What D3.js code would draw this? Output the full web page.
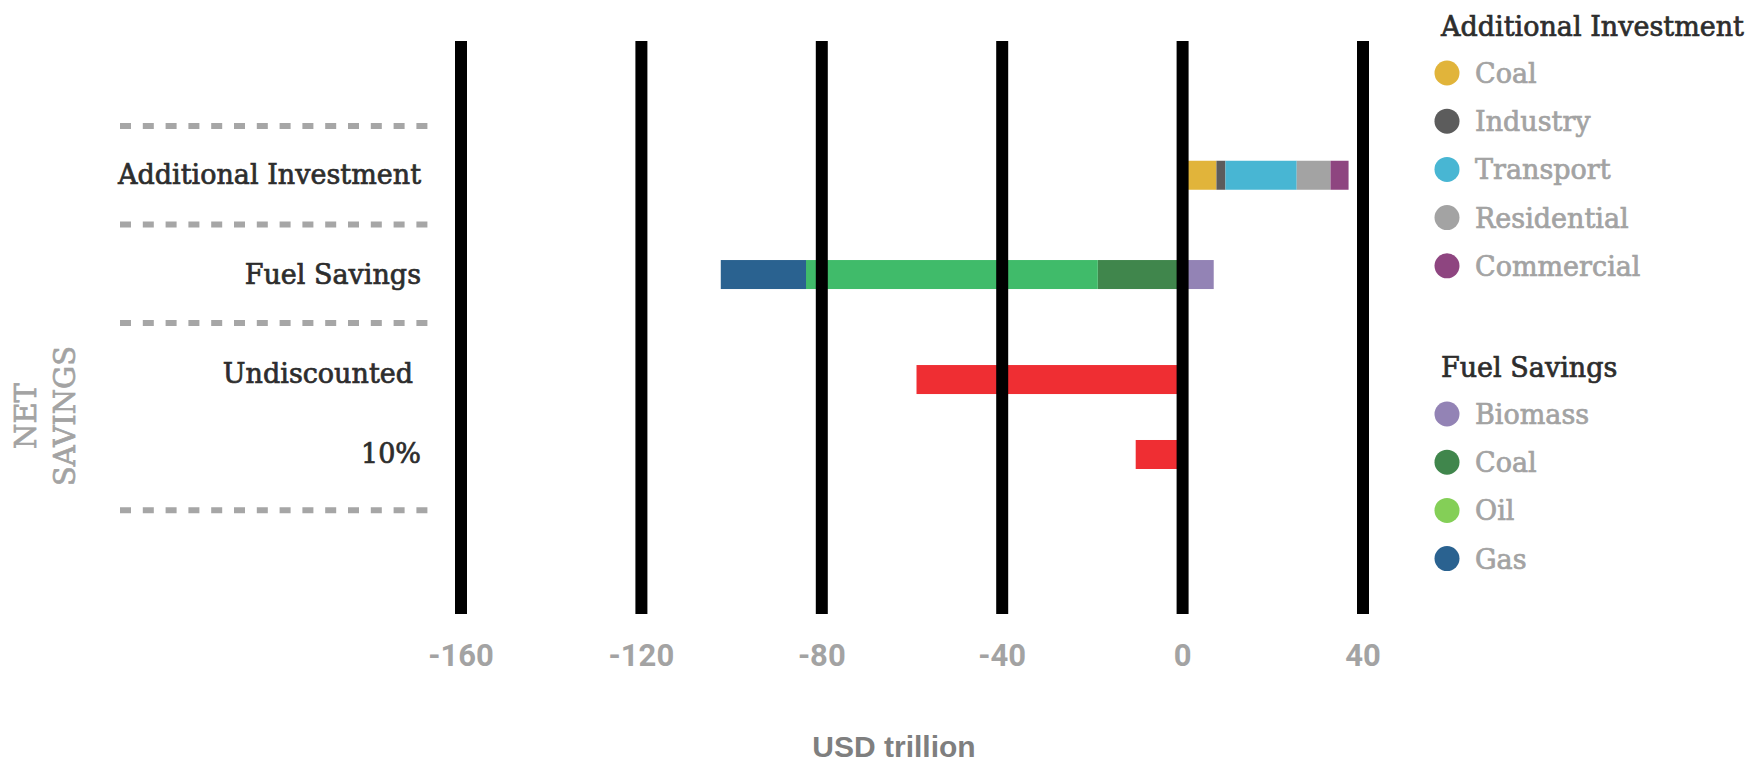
<!DOCTYPE html>
<html>
    <head>
        <meta charset="utf-8">
        <script src="https://d3js.org/d3.v7.min.js"></script>
        <style>
            body {
                margin: 0;
                background: white;
            }
            .slab {
                font-family: "DejaVu Serif", serif;
                stroke-width: 0.7px;
            }
            .tick-label {
                font-family: "Liberation Sans Narrow", "Roboto", sans-serif;
                font-weight: bold;
                fill: #a3a3a3;
            }
        </style>
    </head>
    <body>
    <script>

        const width = 1752;
        const height = 763;

        // rows on the left
        const rows = ['Additional Investment', 'Fuel Savings', 'Undiscounted', '10%'];

        // additional investment (USD trillion)
        const investKeys = ['Coal', 'Industry', 'Transport', 'Residential', 'Commercial'];
        const investValues = [7.5, 2, 15.8, 7.5, 4];
        const investColors = ['#e1b43a', '#5c5c5c', '#48b6d3', '#a3a3a3', '#8e4580'];

        // fuel savings (USD trillion)
        const fuelKeys = ['Biomass', 'Coal', 'Oil', 'Gas'];
        const fuelValues = [6.9, -18.8, -64.7, -18.9];
        const fuelColors = ['#9383b5', '#40864c', '#40bb6a', '#2a6290'];
        const fuelLegendColors = ['#9383b5', '#40864c', '#84cf57', '#2a6290'];

        // net savings
        const netRows = ['Undiscounted', '10%'];
        const netValues = [-59, -10.4];
        const netColor = '#ef2e33';

        const xTicks = [-160, -120, -80, -40, 0, 40];

        // layout: where each row sits, in row-slot units
        const rowSlot = [0.5, 1.508, 2.574, 3.335];
        const dividerSlot = [0, 1, 2, 3.9];

        var x = d3.scaleLinear().domain([-160, 40]).range([461, 1363]);
        var y = d3.scaleLinear().domain([0, 1]).range([126, 224.5]);
        var rowY = d3.scaleOrdinal().domain(rows).range(rowSlot.map(y));
        const barH = 29;

        var svg = d3.select('body')
            .append('svg')
            .attr('width', width)
            .attr('height', height);

        // dashed separators
        svg.selectAll('line.divider')
            .data(dividerSlot)
            .enter()
            .append('line')
            .attr('class', 'divider')
            .attr('x1', 120)
            .attr('x2', 430)
            .attr('y1', d => y(d))
            .attr('y2', d => y(d))
            .style('stroke', '#a6a6a6')
            .style('stroke-width', 6)
            .style('stroke-dasharray', '11,11.8');

        // row labels
        svg.selectAll('text.row')
            .data(rows)
            .enter()
            .append('text')
            .attr('class', 'row slab')
            .attr('x', (d) => d === 'Undiscounted' ? 413 : 421)
            .attr('y', d => rowY(d) + (d === 'Undiscounted' ? 3 : 9))
            .attr('text-anchor', 'end')
            .style('font-size', '27px')
            .style('fill', '#2d2d2d')
            .style('stroke', '#2d2d2d')
            .text(d => d);

        // NET SAVINGS rotated label
        var net = svg.append('text')
            .attr('class', 'slab')
            .attr('transform', 'translate(0,' + 416 + ') rotate(-90)')
            .attr('text-anchor', 'middle')
            .style('font-size', '29px')
            .style('fill', '#a3a3a3')
            .style('stroke', '#a3a3a3');
        net.append('tspan').attr('x', 0).attr('y', 36).text('NET');
        net.append('tspan').attr('x', 0).attr('y', 75).text('SAVINGS');

        // additional investment stack
        var investRow = {};
        investKeys.forEach((k, i) => investRow[k] = investValues[i]);
        var investStack = d3.stack().keys(investKeys)([investRow]);

        svg.append('g').selectAll('rect')
            .data(investStack)
            .enter()
            .append('rect')
            .attr('x', d => x(Math.min(d[0][0], d[0][1])))
            .attr('width', d => Math.abs(x(d[0][1]) - x(d[0][0])))
            .attr('y', rowY('Additional Investment') - barH / 2)
            .attr('height', barH)
            .style('fill', (d, i) => investColors[i]);

        // fuel savings stack (biomass positive, rest negative)
        var fuelRow = {};
        fuelKeys.forEach((k, i) => fuelRow[k] = fuelValues[i]);
        var fuelStack = d3.stack().keys(fuelKeys).offset(d3.stackOffsetDiverging)([fuelRow]);

        svg.append('g').selectAll('rect')
            .data(fuelStack)
            .enter()
            .append('rect')
            .attr('x', d => x(Math.min(d[0][0], d[0][1])))
            .attr('width', d => Math.abs(x(d[0][1]) - x(d[0][0])))
            .attr('y', rowY('Fuel Savings') - barH / 2)
            .attr('height', barH)
            .style('fill', (d, i) => fuelColors[i]);

        // net savings bars
        svg.append('g').selectAll('rect')
            .data(netValues)
            .enter()
            .append('rect')
            .attr('x', d => x(Math.min(0, d)))
            .attr('width', d => Math.abs(x(d) - x(0)))
            .attr('y', (d, i) => rowY(netRows[i]) - barH / 2)
            .attr('height', barH)
            .style('fill', netColor);

        // vertical grid lines on top of bars
        svg.selectAll('line.grid')
            .data(xTicks)
            .enter()
            .append('line')
            .attr('class', 'grid')
            .attr('x1', d => x(d))
            .attr('x2', d => x(d))
            .attr('y1', 41)
            .attr('y2', 614)
            .style('stroke', 'black')
            .style('stroke-width', 12);

        svg.selectAll('text.tick-label')
            .data(xTicks)
            .enter()
            .append('text')
            .attr('class', 'tick-label')
            .attr('x', d => x(d))
            .attr('y', 666)
            .attr('text-anchor', 'middle')
            .style('font-size', '31px')
            .text(d => d);

        svg.append('text')
            .attr('x', 894)
            .attr('y', 757)
            .attr('text-anchor', 'middle')
            .style('font-family', '"Liberation Sans", Arial, sans-serif')
            .style('font-weight', 'bold')
            .style('font-size', '30px')
            .style('fill', '#7f7f7f')
            .text('USD trillion');

        // legends
        function drawLegend(title, keys, colors, top) {
            var g = svg.append('g').attr('transform', 'translate(0,' + top + ')');
            g.append('text')
                .attr('class', 'slab')
                .attr('x', 1441)
                .attr('y', 0)
                .style('font-size', '27px')
                .style('fill', '#2d2d2d')
                .style('stroke', '#2d2d2d')
                .text(title);
            var item = g.selectAll('g.item')
                .data(keys)
                .enter()
                .append('g')
                .attr('transform', (d, i) => 'translate(0,' + (37 + i * 48.2) + ')');
            item.append('circle')
                .attr('cx', 1447)
                .attr('cy', 0)
                .attr('r', 12.5)
                .style('fill', (d, i) => colors[i]);
            item.append('text')
                .attr('class', 'slab')
                .attr('x', 1475)
                .attr('y', 10)
                .style('font-size', '27px')
                .style('fill', '#a3a3a3')
                .style('stroke', '#a3a3a3')
                .text(d => d);
        }

        drawLegend('Additional Investment', investKeys, investColors, 36);
        drawLegend('Fuel Savings', fuelKeys, fuelLegendColors, 377);

    </script>
    </body>
</html>
